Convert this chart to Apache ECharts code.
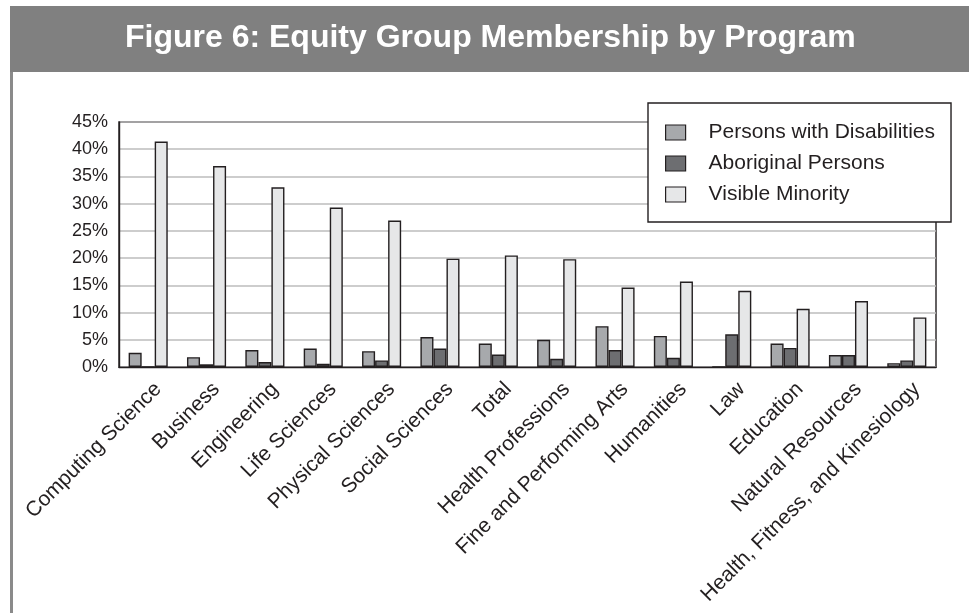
<!DOCTYPE html>
<html>
<head>
<meta charset="utf-8">
<style>
  html, body { margin: 0; padding: 0; background: #fff; }
  #chart { width: 969px; height: 613px; }
</style>
<script src="https://cdn.jsdelivr.net/npm/echarts@6/dist/echarts.min.js"></script>
</head>
<body>
<div id="chart"></div>
<script>
// programs, in the order they appear on the x axis
const programs = [
  "Computing Science", "Business", "Engineering", "Life Sciences",
  "Physical Sciences", "Social Sciences", "Total", "Health Professions",
  "Fine and Performing Arts", "Humanities", "Law", "Education",
  "Natural Resources", "Health, Fitness, and Kinesiology"
];
// percentages
const disabilities = [2.6, 1.8, 3.1, 3.4, 2.9, 5.5, 4.3, 5.0, 7.5, 5.7, 0, 4.3, 2.2, 0.7];
const aboriginal   = [0, 0.5, 0.9, 0.6, 1.2, 3.4, 2.3, 1.5, 3.1, 1.7, 6.0, 3.5, 2.2, 1.2];
const visibleMin   = [41.4, 36.9, 33.0, 29.3, 26.9, 19.9, 20.5, 19.8, 14.6, 15.7, 14.0, 10.7, 12.1, 9.1];
const yTicks = { min: 0, max: 45, interval: 5 };

const font = "Liberation Sans, Arial, sans-serif";
const ink = "#231f20";

function barSeries(name, data, color) {
  return {
    name: name,
    type: "bar",
    data: data,
    barGap: "0%",
    barCategoryGap: "33%",
    itemStyle: { color: color, borderColor: ink, borderWidth: 1.4 },
  };
}

const chart = echarts.init(document.getElementById("chart"));
chart.setOption({
  animation: false,
  backgroundColor: "#fff",
  textStyle: { fontFamily: font },
  graphic: [
    {
      type: "rect",
      shape: { x: 10, y: 6, width: 960, height: 66 },
      style: { fill: "#808080" },
      z: 0,
    },
    {
      type: "line",
      shape: { x1: 11.5, y1: 72, x2: 11.5, y2: 613 },
      style: { stroke: "#8a8a8a", lineWidth: 3 },
    },
    {
      type: "text",
      left: 125,
      top: 22,
      style: {
        text: "Figure 6: Equity Group Membership by Program",
        fill: "#fff",
        font: "bold 32px " + font,
      },
      z: 10,
    },
  ],
  legend: {
    orient: "vertical",
    left: 648,
    top: 103,
    padding: [19, 16, 17, 17],
    icon: "rect",
    itemWidth: 20,
    itemHeight: 15,
    itemGap: 10,
    backgroundColor: "#fff",
    borderColor: ink,
    borderWidth: 1.4,
    borderRadius: 0,
    itemStyle: { borderColor: ink, borderWidth: 1.2 },
    textStyle: { fontSize: 21, color: ink, fontFamily: font, padding: [0, 0, 0, 18] },
    data: ["Persons with Disabilities", "Aboriginal Persons", "Visible Minority"],
  },
  grid: {
    left: 119,
    right: 33,
    top: 122,
    bottom: 246,
    show: true,
    borderColor: ink,
    borderWidth: 1.4,
  },
  xAxis: {
    type: "category",
    data: programs,
    axisLine: { lineStyle: { color: ink, width: 1.4 } },
    axisTick: { show: false },
    axisLabel: {
      interval: 0,
      rotate: 45,
      margin: 9,
      fontSize: 21,
      lineHeight: 28,
      verticalAlign: "top",
      color: ink,
      fontFamily: font,
    },
  },
  yAxis: {
    type: "value",
    min: yTicks.min,
    max: yTicks.max,
    interval: yTicks.interval,
    axisLine: { show: true, lineStyle: { color: ink, width: 1.4 } },
    axisTick: { show: false },
    splitLine: { lineStyle: { color: "#bcbcbc", width: 1.5 } },
    axisLabel: {
      formatter: "{value}%",
      fontSize: 18,
      color: ink,
      margin: 11,
      fontFamily: font,
    },
  },
  series: [
    barSeries("Persons with Disabilities", disabilities, "#a7a9ac"),
    barSeries("Aboriginal Persons", aboriginal, "#6d6e71"),
    barSeries("Visible Minority", visibleMin, "#e6e7e8"),
  ],
});
</script>
</body>
</html>
